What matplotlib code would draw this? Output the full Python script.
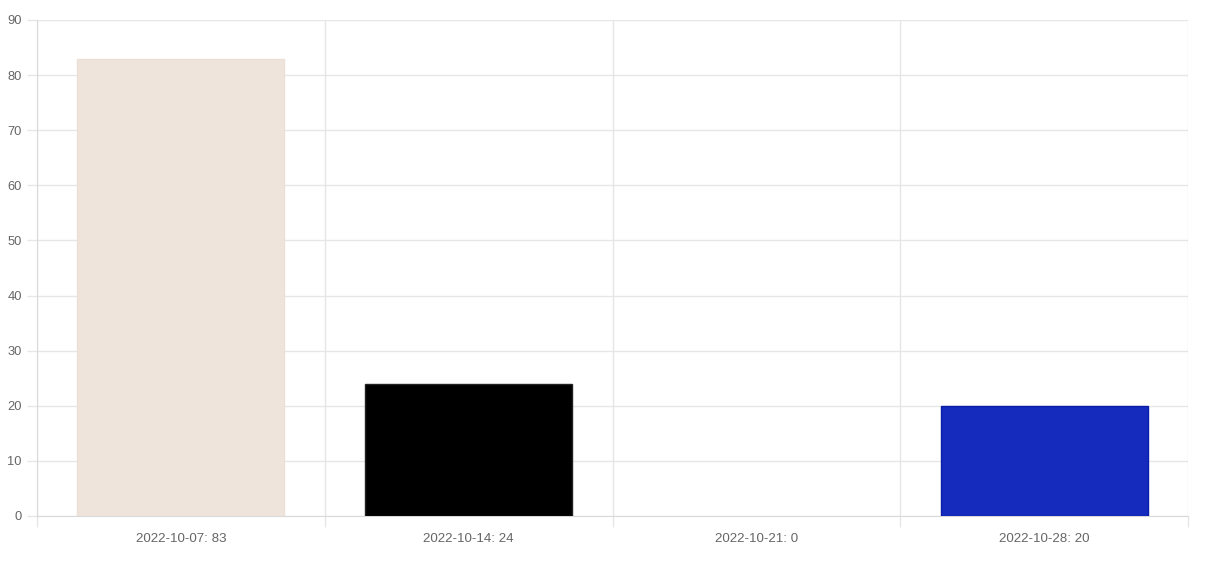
import matplotlib
matplotlib.use("Agg")
import matplotlib.pyplot as plt
from matplotlib.ticker import FixedLocator, MultipleLocator

labels = ["2022-10-07: 83", "2022-10-14: 24", "2022-10-21: 0", "2022-10-28: 20"]
values = [83, 24, 0, 20]
colors = ["#efe4dc", "#000000", "#ffffff", "#142bbd"]
edges = ["#ebdfd6", "#222222", "#ffffff", "#0c1ea8"]

plt.rcParams['font.family'] = ['Liberation Sans', 'DejaVu Sans']

fig = plt.figure(figsize=(12.12, 5.74), dpi=100)
ax = fig.add_axes([37/1212, 1-516/574, (1188-37)/1212, (516-20)/574])

x = list(range(len(values)))
ax.bar(x, values, width=0.72, color=colors, edgecolor=edges, linewidth=1, zorder=3)

ax.set_xlim(-0.5, len(values)-0.5)
ax.set_ylim(0, 90)
ax.yaxis.set_major_locator(MultipleLocator(10))
ax.set_xticks(x)
ax.set_xticklabels(labels)
ax.xaxis.set_minor_locator(FixedLocator([i - 0.5 for i in range(len(values)+1)]))

grid_c = "#e6e6e6"
ax.grid(axis='y', which='major', color=grid_c, linewidth=1, zorder=0)
ax.grid(axis='x', which='minor', color=grid_c, linewidth=1, zorder=0)
ax.tick_params(axis='x', which='major', length=0, pad=12, labelsize=9.6, labelcolor="#666666")
ax.tick_params(axis='x', which='minor', length=8, color=grid_c, width=1)
ax.tick_params(axis='y', which='major', length=7, color=grid_c, width=1, pad=4, labelsize=9.3, labelcolor="#666666")

for s in ['top', 'right']:
    ax.spines[s].set_visible(False)
ax.spines['left'].set_color("#d9d9d9")
ax.spines['bottom'].set_color("#d9d9d9")

fig.savefig("out.png", dpi=100)
